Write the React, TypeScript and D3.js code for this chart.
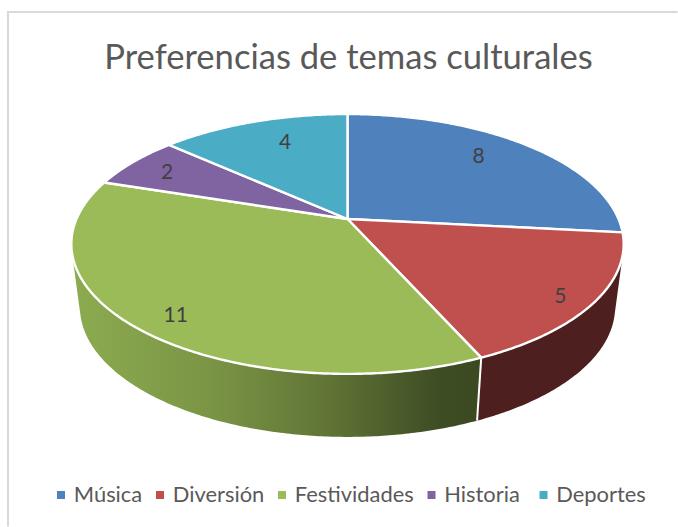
import React from "react";
import * as d3 from "d3";

const categories = ["Música", "Diversión", "Festividades", "Historia", "Deportes"];
const values = [8, 5, 11, 2, 4];
const colors = ["#4f81bd", "#c0504d", "#9bbb59", "#8064a2", "#4bacc6"];
const wallColors = ["#4f81bd", "#4d1f1e", "url(#greenWall)", "#8064a2", "#4bacc6"];
const labelNudges: [number, number][] = [[-15, -3], [20, 12], [-8, 12], [-6, -1], [15, 3]];
const legendX = [57, 156, 278, 427.5, 539.5];

const FONT = "Lato, Carlito, Calibri, sans-serif";
const CX = 347.5, CY = 219, A = 271, B = 83, K = -0.1923;
const DEPTH = 63, SHRINK = 0.969;
const WALL_START = (104 * Math.PI) / 180, WALL_END = (256 * Math.PI) / 180;

function top(theta: number, r = 1): [number, number] {
  const u = Math.sin(theta) * r, v = -Math.cos(theta) * r;
  const den = 1 + K * v;
  return [CX + (A * u) / den, (CY + B * v) / den];
}
function bottom(theta: number): [number, number] {
  const [x, y] = top(theta);
  return [CX + (x - CX) * SHRINK, y + DEPTH];
}
function samples(a: number, b: number) {
  const n = Math.max(2, Math.ceil(Math.abs(b - a) / 0.01));
  return d3.range(n + 1).map((i) => a + ((b - a) * i) / n);
}
const line = d3.line();

export default function App() {
  const arcs = d3.pie<number>().sort(null)(values);
  return (
    <svg width={678} height={527} style={{ position: "absolute", left: 0, top: 0, background: "#fff" }}>
      <defs>
        <linearGradient id="greenWall" gradientUnits="userSpaceOnUse" x1={75} y1={0} x2={470} y2={0}>
          <stop offset="0" stopColor="#8cab50" />
          <stop offset="0.35" stopColor="#7a9445" />
          <stop offset="0.65" stopColor="#5f7335" />
          <stop offset="0.92" stopColor="#3e4d24" />
          <stop offset="1" stopColor="#3c4a22" />
        </linearGradient>
      </defs>
      <path d="M677.5,12 H8 V526.5" fill="none" stroke="#d9d9d9" strokeWidth={2} />
      <text x={348.5} y={69} textAnchor="middle" fontFamily={FONT} fontSize={34.6} fill="#595959">
        Preferencias de temas culturales
      </text>
      {arcs.map((d, i) => {
        const a = Math.max(d.startAngle, WALL_START), b = Math.min(d.endAngle, WALL_END);
        if (a >= b) return null;
        const t = samples(a, b);
        const pts = [...t.map((x) => top(x)), ...t.slice().reverse().map(bottom)];
        return <path key={i} d={line(pts) + "Z"} fill={wallColors[i]} />;
      })}
      {arcs.slice(1, 2).map((d) => (
        <path key="sep" d={line([top(d.endAngle), bottom(d.endAngle)]) ?? ""} stroke="#fff" strokeWidth={2} />
      ))}
      {arcs.map((d, i) => {
        const pts: [number, number][] = [top(0, 0), ...samples(d.startAngle, d.endAngle).map((x) => top(x))];
        return <path key={i} d={line(pts) + "Z"} fill={colors[i]} stroke="#fff" strokeWidth={2.4} strokeLinejoin="round" />;
      })}
      {arcs.map((d, i) => {
        const [x, y] = top((d.startAngle + d.endAngle) / 2, 0.8);
        return (
          <text key={i} x={x + labelNudges[i][0]} y={y + labelNudges[i][1]} dy="0.35em" textAnchor="middle"
            fontFamily={FONT} fontSize={21} fill="#404040">
            {values[i]}
          </text>
        );
      })}
      {categories.map((c, i) => (
        <g key={c}>
          <rect x={legendX[i]} y={491} width={8} height={8} fill={colors[i]} />
          <text x={legendX[i] + 16.8} y={502} fontFamily={FONT} fontSize={21.9} fill="#595959">{c}</text>
        </g>
      ))}
    </svg>
  );
}
